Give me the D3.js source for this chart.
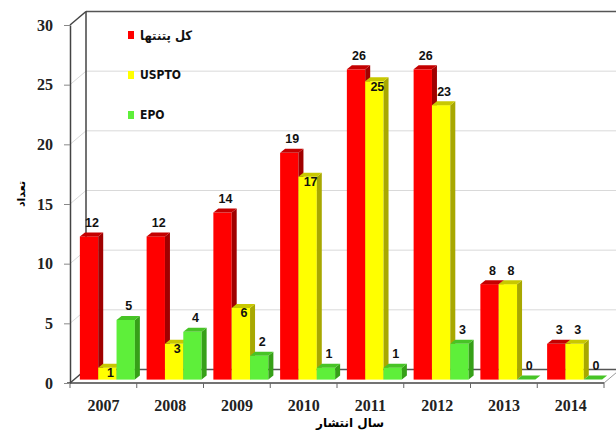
<!DOCTYPE html>
<html>
<head>
<meta charset="utf-8">
<script src="https://cdn.jsdelivr.net/npm/d3@7/dist/d3.min.js"></script>
<style>
  body { margin: 0; background: #fff; }
  svg { display: block; }
</style>
</head>
<body>
<div id="chart"></div>
<script>
/*global d3 */
var years = ["2007", "2008", "2009", "2010", "2011", "2012", "2013", "2014"];
var seriesNames = ["کل پتنتها", "USPTO", "EPO"];
var allPatents = [12, 12, 14, 19, 26, 26, 8, 3];
var usptoPatents = [1, 3, 6, 17, 25, 23, 8, 3];
var epoPatents = [5, 4, 2, 1, 1, 3, 0, 0];
var yTicks = [0, 5, 10, 15, 20, 25, 30];
var yTitle = "تعداد";
var xTitle = "سال انتشار";

function drawChart(container) {
    "use strict";

    var width = 616,
        height = 432,
        // front plane of the 3d box
        left = 70, right = 604, bottom = 383, top = 25,
        // offset of the back wall, and of the bars inside the box
        wallDx = 16, wallDy = -13.5,
        barDx = 4, barDy = -3.4,
        // extrusion of each bar
        depthX = 5, depthY = -4,
        values = [allPatents, usptoPatents, epoPatents],
        colors = [
            {front: "#ff0000", side: "#a00000", top: "#c40000"},
            {front: "#ffff00", side: "#a8a800", top: "#c8c800"},
            {front: "#5eef3a", side: "#36a018", top: "#47c426"}
        ],
        svg = container.append("svg")
            .attr("width", width)
            .attr("height", height),

        x = d3.scaleBand()
            .domain(years)
            .range([left, right]),
        inner = d3.scaleBand()
            .domain(d3.range(seriesNames.length))
            .range([0, x.bandwidth()])
            .paddingInner(0)
            .paddingOuter(0.32),
        y = d3.scaleLinear()
            .domain([0, 30])
            .range([bottom, top]);

    function pts(a) {
        return a.map(function (p) { return p.join(","); }).join(" ");
    }

    // Back wall gridlines
    yTicks.forEach(function (v) {
        var edge = (v === 0 || v === 30);
        svg.append("line")
            .attr("x1", left + wallDx).attr("x2", width + 10)
            .attr("y1", y(v) + wallDy).attr("y2", y(v) + wallDy)
            .attr("stroke", edge ? "#555" : "#d9d9d9")
            .attr("stroke-width", edge ? 1.5 : 1);
        // side wall gridline
        svg.append("line")
            .attr("x1", left).attr("x2", left + wallDx)
            .attr("y1", y(v)).attr("y2", y(v) + wallDy)
            .attr("stroke", edge ? "#444" : "#d9d9d9")
            .attr("stroke-width", edge ? 1.5 : 1);
    });

    // back wall left edge
    svg.append("line")
        .attr("x1", left + wallDx).attr("x2", left + wallDx)
        .attr("y1", y(0) + wallDy).attr("y2", y(30) + wallDy)
        .attr("stroke", "#444").attr("stroke-width", 1.5);

    // floor front edge and right edge
    svg.append("line")
        .attr("x1", left - 3).attr("x2", right)
        .attr("y1", bottom).attr("y2", bottom)
        .attr("stroke", "#444").attr("stroke-width", 1.5);
    svg.append("line")
        .attr("x1", right).attr("x2", right + wallDx)
        .attr("y1", bottom).attr("y2", bottom + wallDy)
        .attr("stroke", "#999").attr("stroke-width", 1);

    // category ticks on band boundaries
    svg.selectAll(".cat-tick")
        .data(years.concat(["end"]))
        .enter().append("line")
        .attr("class", "cat-tick")
        .attr("x1", function (d) { return d === "end" ? right : x(d); })
        .attr("x2", function (d) { return d === "end" ? right : x(d); })
        .attr("y1", bottom).attr("y2", bottom + 5)
        .attr("stroke", "#666");

    // Bars
    var bars = svg.append("g");
    years.forEach(function (yr, i) {
        values.forEach(function (vals, s) {
            var v = vals[i],
                w = inner.bandwidth(),
                bx = x(yr) + inner(s) + barDx,
                y0 = y(0) + barDy,
                yt = y(v) + barDy,
                c = colors[s],
                g = bars.append("g");

            g.append("rect")
                .attr("x", bx).attr("y", yt)
                .attr("width", w).attr("height", y0 - yt)
                .attr("fill", c.front);
            g.append("polygon")
                .attr("points", pts([[bx + w, yt], [bx + w + depthX, yt + depthY],
                    [bx + w + depthX, y0 + depthY], [bx + w, y0]]))
                .attr("fill", c.side);
            g.append("polygon")
                .attr("points", pts([[bx, yt], [bx + depthX, yt + depthY],
                    [bx + w + depthX, yt + depthY], [bx + w, yt]]))
                .attr("fill", c.top);

            // USPTO labels of the first years sit on the bar top, others above
            var inside = (s === 1 && i < 5);
            g.append("text")
                .attr("x", bx + w / 2 + 3)
                .attr("y", inside ? yt + 5 : yt - 14)
                .attr("dy", "0.35em")
                .attr("text-anchor", "middle")
                .style("font-family", "'Liberation Sans', Arial, sans-serif")
                .style("font-weight", "bold")
                .style("font-size", "12.5px")
                .attr("fill", "#111")
                .text(v);
        });
    });

    // Y axis on the front plane
    var yAxis = svg.append("g")
        .attr("transform", "translate(" + left + ",0)")
        .call(d3.axisLeft(y).tickValues(yTicks).tickSize(6).tickSizeOuter(0).tickPadding(11));
    yAxis.select(".domain").attr("stroke", "#444").attr("stroke-width", 1.5);
    yAxis.selectAll(".tick line").attr("stroke", "#888");
    yAxis.selectAll(".tick text")
        .style("font-family", "'Liberation Serif', 'Times New Roman', serif")
        .style("font-weight", "bold")
        .style("font-size", "16px")
        .attr("fill", "#222");

    // X axis labels
    var xAxis = svg.append("g")
        .attr("transform", "translate(0," + bottom + ")")
        .call(d3.axisBottom(x).tickSize(0).tickPadding(17));
    xAxis.select(".domain").remove();
    xAxis.selectAll(".tick text")
        .style("font-family", "'Liberation Serif', 'Times New Roman', serif")
        .style("font-weight", "bold")
        .style("font-size", "16px")
        .attr("fill", "#222");

    // Axis titles
    svg.append("text")
        .attr("transform", "translate(21,194) rotate(-90)")
        .attr("text-anchor", "middle")
        .attr("dy", "0.35em")
        .style("font-family", "'DejaVu Sans', sans-serif")
        .style("font-weight", "bold")
        .style("font-size", "11px")
        .text(yTitle);
    svg.append("text")
        .attr("x", 350).attr("y", 423)
        .attr("dy", "0.35em")
        .attr("text-anchor", "middle")
        .style("font-family", "'DejaVu Sans', sans-serif")
        .style("font-weight", "bold")
        .style("font-size", "12px")
        .text(xTitle);

    // Legend
    var legend = svg.append("g");
    seriesNames.forEach(function (name, s) {
        var ly = 35 + s * 40;
        legend.append("rect")
            .attr("x", 128).attr("y", ly - 4)
            .attr("width", 6).attr("height", 8)
            .attr("fill", colors[s].front);
        legend.append("text")
            .attr("x", 140).attr("y", ly)
            .attr("dy", "0.35em")
            .style("font-family", "'Liberation Sans Narrow', 'DejaVu Sans Condensed', sans-serif")
            .style("font-weight", "bold")
            .style("font-size", s === 0 ? "13px" : "12px")
            .attr("fill", "#111")
            .text(name);
    });
}

drawChart(d3.select("#chart"));
</script>
</body>
</html>
